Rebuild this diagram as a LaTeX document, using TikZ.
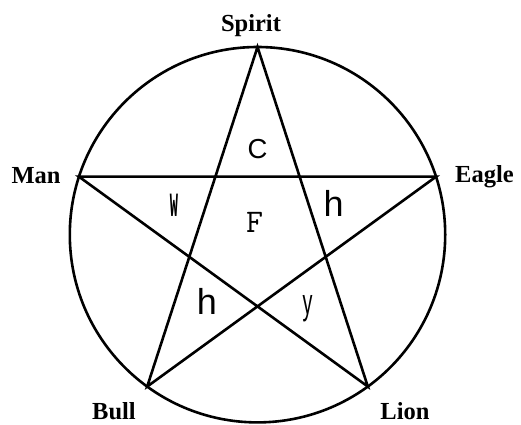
\documentclass[tikz,border=0pt]{standalone}
\usepackage{fontspec}
\setmainfont{Liberation Serif}
\newfontfamily\monofam{Liberation Mono}
\newfontfamily\sansfam{Liberation Sans}
\usepackage{tikz}

\begin{document}
\begin{tikzpicture}[x=1pt,y=1pt,line width=2.6pt,
  vlabel/.style={anchor=base,inner sep=0pt,font=\fontsize{24.5}{24.5}\selectfont\bfseries},
  mletter/.style={inner sep=0pt,font=\fontsize{33}{33}\selectfont\ttfamily},
  sletter/.style={inner sep=0pt,font=\fontsize{36}{36}\selectfont\sansfam}]
 \useasboundingbox (0,0) rectangle (521,424);
 \begin{scope}[shift={(257.5,189.3)}]
 \coordinate (spirit) at (90:187.7);
 \coordinate (man) at (162:187.7);
 \coordinate (bull) at (234:187.7);
 \coordinate (lion) at (306:187.7);
 \coordinate (eagle) at (18:187.7);
 \draw (0,0) circle (187.7);
 \end{scope}
 \draw[line join=miter] (spirit)--(bull)--(eagle)--(man)--(lion)--cycle;
 % names at the points
 \node[vlabel] (spiritlbl) at (251,392.3) {Spirit};
 \node[vlabel] (manlbl) at (36,241) {Man};
 \node[vlabel] (eaglelbl) at (484.5,242) {Eagle};
 \node[vlabel] (bulllbl) at (114,4.5) {Bull};
 \node[vlabel] (lionlbl) at (405,4.5) {Lion};
 % letters inside the star
 \node[sletter,font=\fontsize{27.5}{27.5}\selectfont\sansfam] (c) at (257.5,275) {C};
 \node[mletter] (f) at (254.5,201.5) {F};
 \node[mletter,font=\fontsize{34}{34}\selectfont\monofam\bfseries,xscale=0.4,transform shape] (w) at (174,219) {W};
 \node[sletter] (h1) at (333.7,221) {h};
 \node[sletter] (h2) at (207,123) {h};
 \node[sletter,xscale=0.55,transform shape] (y) at (307.5,115.5) {y};
\end{tikzpicture}
\end{document}
